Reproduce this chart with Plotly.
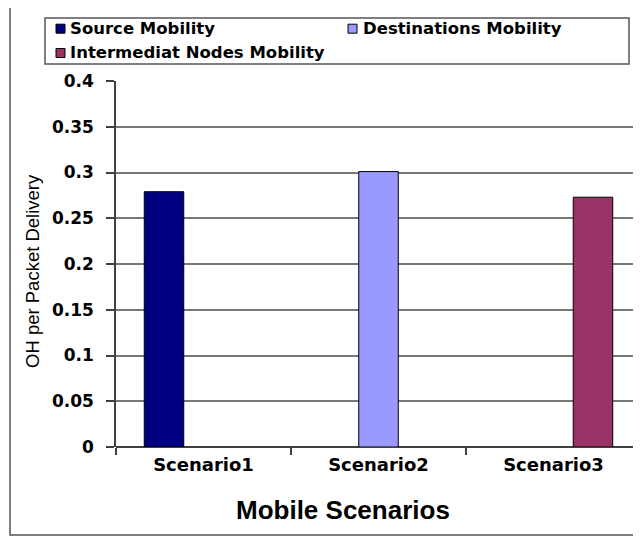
import plotly.graph_objects as go

categories = ["Scenario1", "Scenario2", "Scenario3"]
series_names = ["Source Mobility", "Destinations Mobility", "Intermediat Nodes Mobility"]
source_vals = [0.279, None, None]
dest_vals = [None, 0.301, None]
inter_vals = [None, None, 0.273]
colors = ["#000080", "#9999FF", "#993366"]
y_ticks = [0, 0.05, 0.1, 0.15, 0.2, 0.25, 0.3, 0.35, 0.4]
y_tick_text = ["0", "0.05", "0.1", "0.15", "0.2", "0.25", "0.3", "0.35", "0.4"]

OFF = 8  # page body margin
W, H = 641, 537
L, R, T, B = 116 - OFF, OFF, 81 - OFF, 537 - (447 - OFF)
pw, ph = W - L - R, H - T - B


def px(x):
    return (x - OFF - L) / pw


def py(y):
    return (H - B - (y - OFF)) / ph


fig = go.Figure()
for name, vals, col in zip(series_names, [source_vals, dest_vals, inter_vals], colors):
    fig.add_trace(go.Bar(
        x=categories, y=vals, name=name,
        marker=dict(color=col, line=dict(color="#000000", width=1)),
    ))

# custom legend (swatch position, text start, row center)
legend_items = [(56, 68, 28.7), (348, 361, 28.7), (56, 68, 53)]
shapes = [
    dict(type="rect", xref="paper", yref="paper",
         x0=px(10), x1=px(660), y0=py(535), y1=py(3),
         line=dict(color="#555555", width=1.5), fillcolor="rgba(0,0,0,0)", layer="below"),
    dict(type="rect", xref="paper", yref="paper",
         x0=px(45), x1=px(629), y0=py(64), y1=py(18),
         line=dict(color="#555555", width=1.5), fillcolor="rgba(0,0,0,0)"),
]
annotations = [
    dict(text="Mobile Scenarios", xref="paper", yref="paper", x=px(343), y=py(510),
         showarrow=False, xanchor="center", yanchor="middle",
         font=dict(family="Liberation Sans", size=26, color="#000000", weight="bold")),
    dict(text="OH per Packet Delivery", xref="paper", yref="paper", x=px(32), y=py(271),
         showarrow=False, xanchor="center", yanchor="middle", textangle=-90,
         font=dict(family="Liberation Sans", size=18.5, color="#000000")),
]
for (sx, tx, cy), name, col in zip(legend_items, series_names, colors):
    shapes.append(dict(type="rect", xref="paper", yref="paper",
                       x0=px(sx), x1=px(sx + 9), y0=py(cy + 4.5), y1=py(cy - 4.5),
                       line=dict(color="#000000", width=1), fillcolor=col))
    annotations.append(dict(text=name, xref="paper", yref="paper", x=px(tx), y=py(cy),
                            showarrow=False, xanchor="left", yanchor="middle",
                            font=dict(family="DejaVu Sans", size=16.5, color="#000000",
                                      weight="bold")))

fig.update_layout(
    width=W, height=H,
    margin=dict(l=L, r=R, t=T, b=B, pad=0),
    paper_bgcolor="white", plot_bgcolor="white",
    barmode="group", bargap=0.323, bargroupgap=0,
    showlegend=False,
    xaxis=dict(
        range=[-0.5, 2.5], tickson="boundaries", ticks="outside", ticklen=7,
        tickcolor="#404040", tickwidth=1.5,
        showline=False, showgrid=False, ticklabelstandoff=5,
        tickfont=dict(family="DejaVu Sans", size=18, color="#000000", weight="bold"),
    ),
    yaxis=dict(
        range=[0, 0.4], tickvals=y_ticks, ticktext=y_tick_text,
        ticks="outside", ticklen=8, tickcolor="#404040", tickwidth=1.5,
        showline=True, linecolor="#404040", linewidth=1.5,
        showgrid=True, gridcolor="#777777", gridwidth=1.5,
        zeroline=True, zerolinecolor="#404040", zerolinewidth=1.5,
        ticklabelstandoff=9,
        tickfont=dict(family="DejaVu Sans", size=17, color="#000000", weight="bold"),
    ),
    shapes=shapes,
    annotations=annotations,
)

fig.write_html("out.html")
